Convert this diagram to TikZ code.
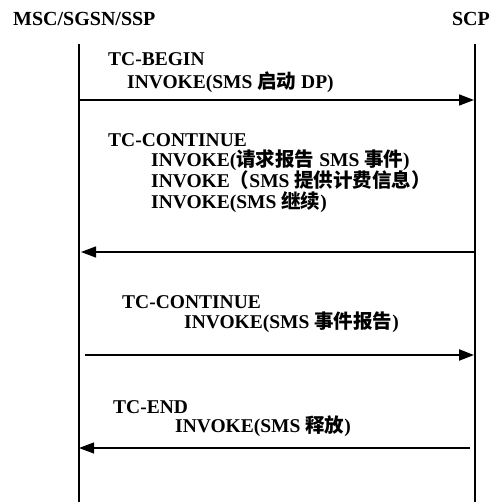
\documentclass[tikz,border=0pt]{standalone}
\usepackage{fontspec}
\setmainfont{Liberation Serif}
\newfontfamily\cjk{Noto Sans CJK SC}
\usetikzlibrary{arrows.meta}
\newcommand{\zh}[1]{{\cjk #1}}
\begin{document}
\begin{tikzpicture}[x=1pt,y=-1pt,
  lbl/.style={anchor=base west,inner sep=0pt,text height=13pt,text depth=3pt,font=\fontsize{19.5}{20}\selectfont\bfseries},
  hdr/.style={anchor=base west,inner sep=0pt,font=\fontsize{20}{20}\selectfont\bfseries},
  life/.style={line width=2pt},
  msg/.style={line width=1.6pt,-{Triangle[length=15pt,width=11pt]}}]
\useasboundingbox (0,0) rectangle (496,502);
% headers
\node[hdr] (msc) at (13,26) {MSC/SGSN/SSP};
\node[hdr,anchor=base east] (scp) at (490,26) {SCP};
% lifelines
\coordinate (lt) at (79,44);
\coordinate (lb) at (79,502);
\coordinate (rt) at (475,44);
\coordinate (rb) at (475,502);
\draw[life] (lt) -- (lb);
\draw[life] (rt) -- (rb);
% message 1
\node[lbl] (t1) at (108,66) {TC-BEGIN};
\node[lbl] (t1a) at (127,89) {INVOKE(SMS \zh{启动} DP)};
\coordinate (a1s) at (79,100);
\coordinate (a1e) at (474,100);
\draw[msg] (a1s) -- (a1e);
% message 2
\node[lbl] (t2) at (108,147) {TC-CONTINUE};
\node[lbl] (t2a) at (151,167) {INVOKE(\zh{请求报告} SMS \zh{事件})};
\node[lbl] (t2b) at (151,188) {INVOKE\zh{（}SMS \zh{提供计费信息）}};
\node[lbl] (t2c) at (151,209) {INVOKE(SMS \zh{继续})};
\coordinate (a2s) at (475,252);
\coordinate (a2e) at (81,252);
\draw[msg,line width=1.3pt] (a2s) -- (a2e);
% message 3
\node[lbl] (t3) at (122,308) {TC-CONTINUE};
\node[lbl] (t3a) at (184,328) {INVOKE(SMS \zh{事件报告})};
\coordinate (a3s) at (85,355);
\coordinate (a3e) at (474,355);
\draw[msg,line width=2.2pt] (a3s) -- (a3e);
% message 4
\node[lbl] (t4) at (113,413) {TC-END};
\node[lbl] (t4a) at (175,432) {INVOKE(SMS \zh{释放})};
\coordinate (a4s) at (470,448);
\coordinate (a4e) at (79,448);
\draw[msg,line width=1.2pt] (a4s) -- (a4e);
\end{tikzpicture}
\end{document}
